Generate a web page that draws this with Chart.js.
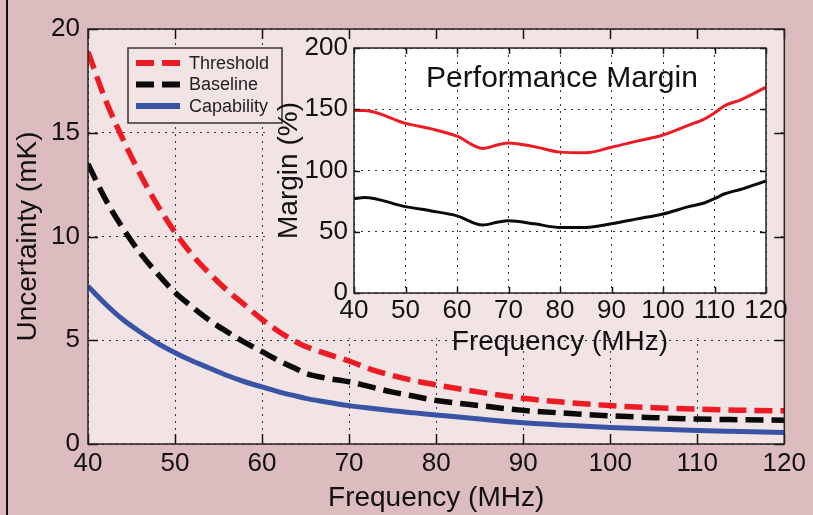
<!DOCTYPE html>
<html>
<head>
    <title>Uncertainty vs Frequency</title>
    <script src="https://cdn.jsdelivr.net/npm/chart.js@4.4.1/dist/chart.umd.min.js"></script>
    <style>
        body {
            margin: 0;
            background-color: #dcbcbf;
        }
        #wrap {
            position: relative;
            width: 813px;
            height: 515px;
            overflow: hidden;
        }
        #edge {
            position: absolute;
            left: 6px;
            top: 0;
            width: 2px;
            height: 515px;
            background: #111;
        }
        #mainChart { position: absolute; left: 0; top: 0; }
        #insetChart { position: absolute; left: 265px; top: 28px; }
    </style>
</head>
<body>
<div id="wrap">
    <canvas id="mainChart" width="813" height="515"></canvas>
    <div id="edge"></div>
    <canvas id="insetChart" width="530" height="334"></canvas>
</div>

<script>
    // main plot: uncertainty (mK) vs frequency (MHz)
    var freq = [40, 42, 44, 46, 48, 50, 52, 54, 56, 58, 60, 62, 64, 65, 67, 70, 72.5, 75, 77.5, 80, 85, 90, 95, 100, 105, 110, 115, 120];
    var threshold = [18.9, 16.6, 14.7, 13.0, 11.5, 10.2, 9.1, 8.2, 7.4, 6.7, 6.0, 5.4, 4.9, 4.7, 4.4, 4.0, 3.6, 3.3, 3.05, 2.85, 2.5, 2.2, 2.0, 1.85, 1.75, 1.68, 1.63, 1.6];
    var baseline = [13.5, 11.8, 10.4, 9.2, 8.2, 7.3, 6.6, 5.95, 5.4, 4.9, 4.45, 4.0, 3.6, 3.4, 3.2, 3.0, 2.75, 2.5, 2.3, 2.1, 1.85, 1.62, 1.48, 1.36, 1.27, 1.2, 1.17, 1.15];
    var capability = [7.6, 6.75, 6.0, 5.4, 4.85, 4.4, 4.0, 3.65, 3.3, 3.0, 2.75, 2.5, 2.3, 2.2, 2.05, 1.85, 1.72, 1.6, 1.5, 1.4, 1.2, 1.02, 0.9, 0.8, 0.72, 0.65, 0.6, 0.55];
    var xTicks = [40, 50, 60, 70, 80, 90, 100, 110, 120];
    var yTicks = [0, 5, 10, 15, 20];

    // inset: performance margin (%)
    var marginFreq = [40, 42, 50, 55, 60, 65, 68, 70, 75, 80, 85, 90, 95, 100, 105, 108, 110, 112, 115, 120];
    var marginThreshold = [149, 149, 138.5, 134, 128, 118, 121, 122.5, 119.5, 115, 114.5, 119, 124, 129, 137, 142, 147, 153, 157.5, 168];
    var marginBaseline = [77, 78, 70.5, 67, 63, 55.5, 58, 59, 56.5, 53.5, 53.5, 56.5, 60.5, 64.5, 70.5, 73.5, 77, 81, 84.5, 91.5];
    var marginYTicks = [0, 50, 100, 150, 200];

    var pink = '#f2e4e5';
    var tickFont = { family: "'Liberation Sans', Arial, sans-serif", size: 26, lineHeight: 1 };
    var titleFont = { family: "'Liberation Sans', Arial, sans-serif", size: 28, lineHeight: 1 };

    function pts(xs, ys) {
        return xs.map(function (x, i) { return { x: x, y: ys[i] }; });
    }

    // box round the plot area and MATLAB style inward ticks on all four sides
    var frameTicks = {
        id: 'frameTicks',
        afterDraw: function (chart, args, opts) {
            var ctx = chart.ctx, a = chart.chartArea;
            var sx = chart.scales.x, sy = chart.scales.y;
            ctx.save();
            ctx.strokeStyle = '#111';
            ctx.lineWidth = opts.width;
            sx.ticks.forEach(function (t) {
                var px = Math.round(sx.getPixelForValue(t.value)) + 0.5;
                ctx.beginPath();
                ctx.moveTo(px, a.bottom); ctx.lineTo(px, a.bottom - opts.len);
                ctx.moveTo(px, a.top); ctx.lineTo(px, a.top + opts.len);
                ctx.stroke();
            });
            sy.ticks.forEach(function (t) {
                var py = Math.round(sy.getPixelForValue(t.value)) + 0.5;
                ctx.beginPath();
                ctx.moveTo(a.left, py); ctx.lineTo(a.left + opts.len, py);
                ctx.moveTo(a.right, py); ctx.lineTo(a.right - opts.len, py);
                ctx.stroke();
            });
            ctx.lineWidth = opts.frame;
            ctx.strokeStyle = '#222';
            ctx.strokeRect(a.left, a.top, a.right - a.left, a.bottom - a.top);
            ctx.restore();
        }
    };

    // plot background, and for the main plot a patch that hides the grid behind the inset
    var plotBack = {
        id: 'plotBack',
        beforeDraw: function (chart, args, opts) {
            var ctx = chart.ctx, a = chart.chartArea;
            ctx.save();
            ctx.fillStyle = opts.color;
            ctx.fillRect(a.left, a.top, a.right - a.left, a.bottom - a.top);
            ctx.restore();
        },
        beforeDatasetsDraw: function (chart, args, opts) {
            if (!opts.cover) return;
            var c = opts.cover;
            chart.ctx.save();
            chart.ctx.fillStyle = opts.color;
            chart.ctx.fillRect(c[0], c[1], c[2] - c[0], c[3] - c[1]);
            chart.ctx.restore();
        }
    };

    // legend box drawn inside the plot, from the datasets
    var boxLegend = {
        id: 'boxLegend',
        afterDatasetsDraw: function (chart, args, opts) {
            var ctx = chart.ctx;
            ctx.save();
            ctx.fillStyle = pink;
            ctx.fillRect(opts.x, opts.y, opts.w, opts.h);
            ctx.strokeStyle = '#333';
            ctx.lineWidth = 1.5;
            ctx.strokeRect(opts.x, opts.y, opts.w, opts.h);
            ctx.font = "18px 'Liberation Sans', Arial, sans-serif";
            ctx.textBaseline = 'middle';
            chart.data.datasets.forEach(function (ds, i) {
                var y = opts.y + 15 + i * 21.5;
                ctx.strokeStyle = ds.borderColor;
                ctx.lineWidth = 6;
                ctx.setLineDash(ds.borderDash || []);
                ctx.beginPath();
                ctx.moveTo(opts.x + 8, y);
                ctx.lineTo(opts.x + 52, y);
                ctx.stroke();
                ctx.setLineDash([]);
                ctx.fillStyle = '#222';
                ctx.fillText(ds.label, opts.x + 61, y + 1);
            });
            ctx.restore();
        }
    };

    // title written inside the inset plot
    var innerTitle = {
        id: 'innerTitle',
        afterDraw: function (chart, args, opts) {
            var ctx = chart.ctx, a = chart.chartArea;
            ctx.save();
            ctx.font = "30px 'Liberation Sans', Arial, sans-serif";
            ctx.fillStyle = '#111';
            ctx.textAlign = 'center';
            ctx.textBaseline = 'middle';
            ctx.fillText(opts.text, (a.left + a.right) / 2 + 2, a.top + 31);
            ctx.restore();
        }
    };

    function tickList(values) {
        return function (scale) {
            scale.ticks = values.map(function (v) { return { value: v }; });
        };
    }

    var mainChart = new Chart(document.getElementById('mainChart'), {
        type: 'line',
        data: {
            datasets: [
                {
                    label: 'Threshold',
                    data: pts(freq, threshold),
                    borderColor: '#ed1c24',
                    borderWidth: 5.5,
                    borderDash: [18, 8],
                    pointRadius: 0,
                    cubicInterpolationMode: 'monotone'
                },
                {
                    label: 'Baseline',
                    data: pts(freq, baseline),
                    borderColor: '#0a0a0a',
                    borderWidth: 5.5,
                    borderDash: [18, 8],
                    pointRadius: 0,
                    cubicInterpolationMode: 'monotone'
                },
                {
                    label: 'Capability',
                    data: pts(freq, capability),
                    borderColor: '#3a54a5',
                    borderWidth: 5,
                    pointRadius: 0,
                    cubicInterpolationMode: 'monotone'
                }
            ]
        },
        options: {
            responsive: false,
            animation: false,
            devicePixelRatio: 1,
            layout: { padding: { left: 0, top: 29, right: 26, bottom: 0 } },
            scales: {
                x: {
                    type: 'linear',
                    min: 40,
                    max: 120,
                    afterBuildTicks: tickList(xTicks),
                    ticks: { color: '#111', font: tickFont, padding: 7, maxRotation: 0, autoSkip: false },
                    grid: { color: '#333', lineWidth: 1, drawTicks: false },
                    border: { display: false, dash: [2, 5] },
                    title: { display: true, text: 'Frequency (MHz)', color: '#111', font: titleFont, padding: { top: 0, bottom: 3 } },
                    afterFit: function (s) { s.height = 71; }
                },
                y: {
                    min: 0,
                    max: 20,
                    afterBuildTicks: tickList(yTicks),
                    ticks: { color: '#111', font: tickFont, padding: 8 },
                    grid: { color: '#333', lineWidth: 1, drawTicks: false },
                    border: { display: false, dash: [2, 5] },
                    title: { display: true, text: 'Uncertainty (mK)', color: '#111', font: titleFont, padding: { top: 14, bottom: 0 } },
                    afterFit: function (s) { s.width = 88; }
                }
            },
            plugins: {
                legend: { display: false },
                tooltip: { enabled: false },
                plotBack: { color: pink, cover: [268, 40, 779, 338] },
                frameTicks: { len: 10, width: 1.5, frame: 1.5 },
                boxLegend: { x: 128, y: 48, w: 154, h: 75 }
            }
        },
        plugins: [plotBack, boxLegend, frameTicks]
    });

    var insetChart = new Chart(document.getElementById('insetChart'), {
        type: 'line',
        data: {
            datasets: [
                {
                    label: 'Threshold margin',
                    data: pts(marginFreq, marginThreshold),
                    borderColor: '#ed1c24',
                    borderWidth: 3,
                    pointRadius: 0,
                    cubicInterpolationMode: 'monotone'
                },
                {
                    label: 'Baseline margin',
                    data: pts(marginFreq, marginBaseline),
                    borderColor: '#0a0a0a',
                    borderWidth: 3,
                    pointRadius: 0,
                    cubicInterpolationMode: 'monotone'
                }
            ]
        },
        options: {
            responsive: false,
            animation: false,
            devicePixelRatio: 1,
            layout: { padding: { left: 0, top: 20, right: 29, bottom: 0 } },
            scales: {
                x: {
                    type: 'linear',
                    min: 40,
                    max: 120,
                    afterBuildTicks: tickList(xTicks),
                    ticks: { color: '#111', font: tickFont, padding: 5, maxRotation: 0, autoSkip: false },
                    grid: { color: '#333', lineWidth: 1, drawTicks: false },
                    border: { display: false, dash: [2, 5] },
                    title: { display: true, text: 'Frequency (MHz)', color: '#111', font: titleFont, padding: { top: 0, bottom: 6 } },
                    afterFit: function (s) { s.height = 69; }
                },
                y: {
                    min: 0,
                    max: 200,
                    afterBuildTicks: tickList(marginYTicks),
                    ticks: { color: '#111', font: tickFont, padding: 6 },
                    grid: { color: '#333', lineWidth: 1, drawTicks: false },
                    border: { display: false, dash: [2, 5] },
                    title: { display: true, text: 'Margin (%)', color: '#111', font: titleFont, padding: { top: 10, bottom: 0 } },
                    afterFit: function (s) { s.width = 89; }
                }
            },
            plugins: {
                legend: { display: false },
                tooltip: { enabled: false },
                plotBack: { color: '#ffffff' },
                frameTicks: { len: 6, width: 1.5, frame: 1.5 },
                innerTitle: { text: 'Performance Margin' }
            }
        },
        plugins: [plotBack, innerTitle, frameTicks]
    });
</script>
</body>
</html>
